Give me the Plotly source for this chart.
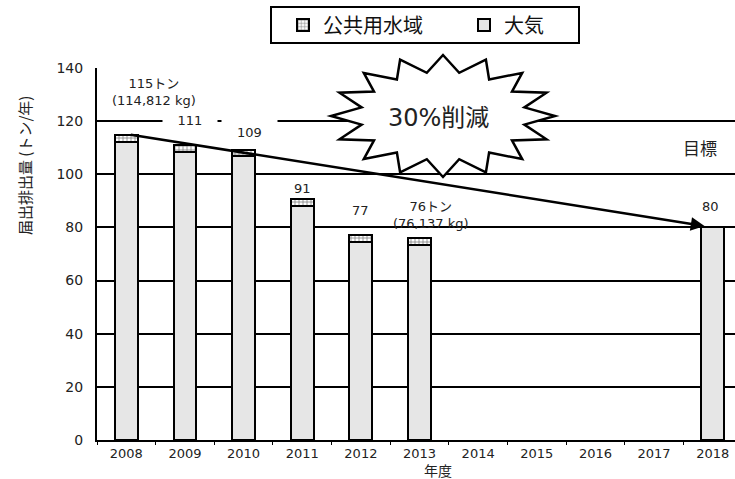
import math
import plotly.graph_objects as go

years = ["2008", "2009", "2010", "2011", "2012", "2013", "2014", "2015", "2016", "2017", "2018"]
air = [112.2, 108.4, 106.8, 87.9, 74.6, 73.4, None, None, None, None, 80]
water = [2.6, 2.6, 2.4, 2.9, 2.6, 2.7, None, None, None, None, None]
value_labels = ["115トン<br>(114,812 kg)", "111", "109", "91", "77", "76トン<br>(76,137 kg)", "", "", "", "", "80"]
label_y = [130.8, 120.3, 116.0, 94.5, 86.2, 84.7, None, None, None, None, 87.7]

NUMF = "DejaVu Sans, Noto Sans CJK JP"
CJKF = "Noto Sans CJK JP"
W, H = 735, 479
ML, MR, MT, MB = 97, 0, 68, 39
PW, PH = W - ML - MR, H - MT - MB


def px_x(x):
    return (x - ML) / PW


def px_y(y):
    return (H - MB - y) / PH


fig = go.Figure()
fig.add_trace(go.Bar(
    x=years, y=air, name="大気", width=0.39,
    marker=dict(color="#e6e6e6", line=dict(color="black", width=2)),
    legendrank=2,
))
fig.add_trace(go.Bar(
    x=years, y=water, name="公共用水域", width=0.39,
    marker=dict(color="white", line=dict(color="black", width=2),
                pattern=dict(shape="+", fgcolor="black", bgcolor="white", size=4, solidity=0.35)),
    legendrank=1,
))

annotations = []
pos = {
    0: dict(xshift=28),
    1: dict(xshift=5, bgcolor="white", width=48, borderpad=3),
    2: dict(xshift=6, bgcolor="white", width=49, height=22, borderpad=3),
    3: dict(),
    4: dict(),
    5: dict(xshift=11),
    10: dict(xshift=-2),
}
for i, p in pos.items():
    a = dict(
        x=float(i), y=label_y[i], xref="x", yref="y", text=value_labels[i], showarrow=False,
        xshift=p.get("xshift", 0), bgcolor=p.get("bgcolor", "rgba(0,0,0,0)"),
        borderpad=p.get("borderpad", 1),
        font=dict(family=NUMF, size=13, color="#222"), xanchor="center", yanchor="middle", align="center",
    )
    if "width" in p:
        a["width"] = p["width"]
    if "height" in p:
        a["height"] = p["height"]
    annotations.append(a)
# target label
annotations.append(dict(x=10.0, y=110, xref="x", yref="y", text="目標", showarrow=False,
                        xshift=-13, xanchor="center", yanchor="middle",
                        font=dict(family=CJKF, size=17, color="#222")))
# arrow from 2008 to 2018
annotations.append(dict(
    x=9.86, y=80.5, ax=0.05, ay=115, xref="x", yref="y", axref="x", ayref="y",
    showarrow=True, arrowhead=2, arrowsize=1.1, arrowwidth=2.5, arrowcolor="black", text="",
))
# star text
annotations.append(dict(x=px_x(438), y=px_y(118), xref="paper", yref="paper", text="30%削減",
                        xanchor="center", yanchor="middle",
                        showarrow=False, font=dict(family=NUMF, size=24, color="#222")))
# axis titles
annotations.append(dict(x=px_x(24), y=px_y(166), xref="paper", yref="paper", text="届出排出量 (トン/年)",
                        xanchor="center", yanchor="middle",
                        textangle=-90, showarrow=False, font=dict(family=CJKF, size=15, color="#222")))
annotations.append(dict(x=px_x(438), y=px_y(470), xref="paper", yref="paper", text="年度",
                        xanchor="center", yanchor="middle",
                        showarrow=False, font=dict(family=CJKF, size=14, color="#222")))

# starburst shape (pixel-sized, anchored at center)
n = 16
ro_x, ro_y, ri_x, ri_y = 112, 61, 83, 44
pts = []
for k in range(2 * n):
    a = math.pi * k / n + math.pi / 2
    if k % 2 == 0:
        pts.append((ro_x * math.cos(a), ro_y * math.sin(a)))
    else:
        pts.append((ri_x * math.cos(a), ri_y * math.sin(a)))
path = "M " + " L ".join(f"{px:.1f},{py:.1f}" for px, py in pts) + " Z"

shapes = [
    dict(type="path", path=path, xref="paper", yref="paper",
         xsizemode="pixel", ysizemode="pixel", xanchor=px_x(443), yanchor=px_y(116),
         fillcolor="white", line=dict(color="black", width=2.5), layer="above"),
    # legend frame
    dict(type="rect", xref="paper", yref="paper", x0=px_x(271), x1=px_x(579), y0=px_y(7), y1=px_y(43),
         line=dict(color="black", width=2), fillcolor="rgba(0,0,0,0)"),
]

fig.update_layout(
    shapes=shapes,
    annotations=annotations,
    barmode="stack",
    width=W, height=H,
    margin=dict(l=ML, r=MR, t=MT, b=MB, pad=0),
    plot_bgcolor="white", paper_bgcolor="white",
    font=dict(family=NUMF, color="#222"),
    showlegend=True,
    legend=dict(orientation="h", x=px_x(283), xanchor="left",
                y=px_y(25), yanchor="middle",
                borderwidth=0, bgcolor="rgba(0,0,0,0)",
                font=dict(family=CJKF, size=20, color="#111"),
                entrywidth=136, itemwidth=30, traceorder="normal"),
    xaxis=dict(type="category", range=[-0.5, 10.38], showgrid=False,
               showline=True, linecolor="black", linewidth=2,
               ticks="outside", tickson="boundaries", ticklen=3, tickcolor="black",
               tickfont=dict(family=NUMF, size=13, color="#222")),
    yaxis=dict(range=[0, 140], dtick=20, showgrid=True, gridcolor="black", gridwidth=1.5,
               showline=True, linecolor="black", linewidth=2, zeroline=False,
               ticks="", ticklabelstandoff=9,
               tickfont=dict(family=NUMF, size=14, color="#222")),
)

fig.write_html("out.html")
